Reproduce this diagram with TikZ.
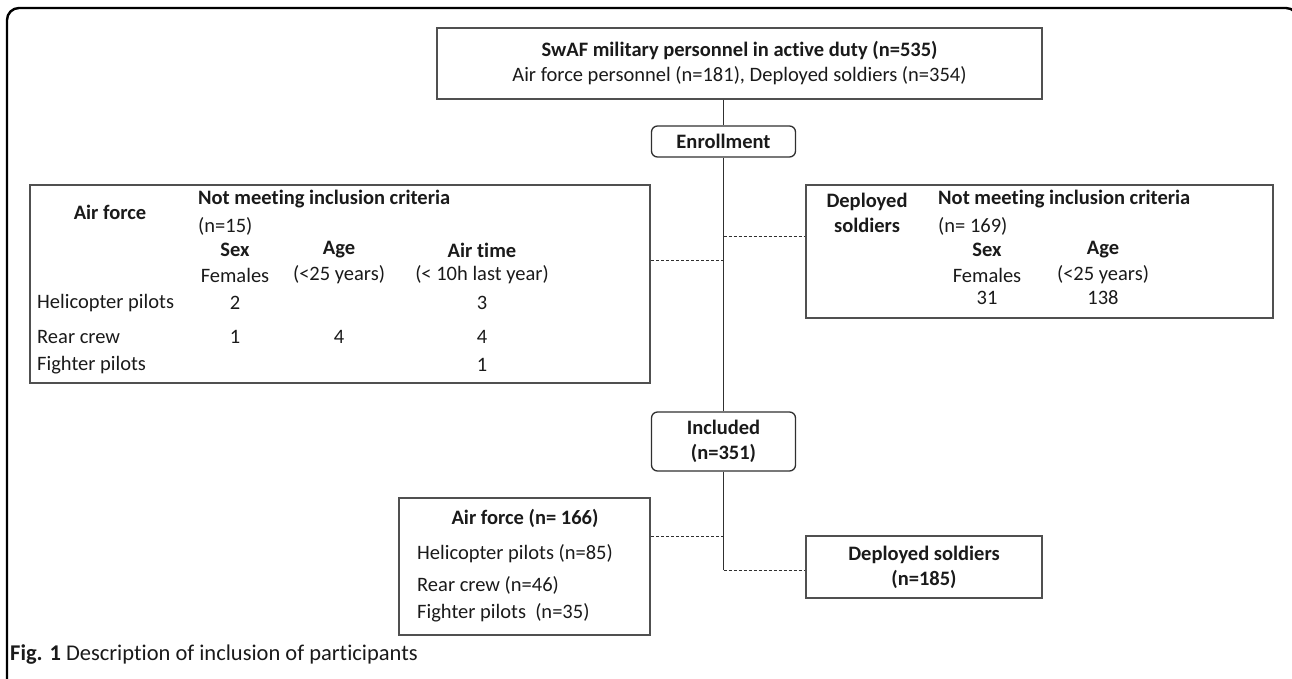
\documentclass[tikz,border=0pt]{standalone}
\usepackage{fontspec}
\setmainfont{Carlito}[Ligatures=NoCommon]
\definecolor{boxgray}{HTML}{505050}
\definecolor{linegray}{HTML}{303030}
\definecolor{textblack}{HTML}{1A1A1A}
\tikzset{
  box/.style={draw=boxgray, line width=1.3pt, inner sep=0pt},
  roundbox/.style={box, draw=linegray, rounded corners=6pt},
  txt/.style={inner sep=0pt, text=textblack, font=\fontsize{20.5}{25}\selectfont},
  hd/.style={txt, font=\fontsize{20.5}{25}\selectfont\bfseries},
  link/.style={draw=linegray, line width=1.3pt},
  dashlink/.style={draw=linegray, line width=0.9pt, dash pattern=on 3pt off 2pt}
}
\begin{document}
\begin{tikzpicture}[x=1pt,y=-1pt]
\useasboundingbox (0,0) rectangle (1292,678);

% outer frame, open at the bottom
\draw[line width=2.4pt, rounded corners=12pt] (7,690) -- (7,8) -- (1298,8) -- (1298,60);

% main flow
\node[box, hd, align=center, minimum width=605, minimum height=71] (total) at (739.5,63.5)
  {SwAF military personnel in active duty (n=535)\\\mdseries Air force personnel (n=181), Deployed soldiers (n=354)};
\node[roundbox, hd, minimum width=144, minimum height=31] (enroll) at (723.5,141.5) {Enrollment};
\node[roundbox, hd, align=center, minimum width=144, minimum height=59] (incl) at (723.5,441.5) {Included\\(n=351)};

% excluded, air force
\node[box, minimum width=620, minimum height=198] (exaf) at (340,284) {};
\node[hd] (exaf-t) at (110,212) {Air force};
\node[hd, anchor=west] (exaf-nm) at (198,199) {Not meeting inclusion criteria};
\node[txt, anchor=west] (exaf-n) at (198,226) {(n=15)};
\foreach \xx/\hh/\ss [count=\i] in {235/Sex/Females, 339/Age/(<25 years), 482/Air time/(< 10h last year)} {
  \node[hd] (exaf-h\i) at (\xx,250) {\hh};
  \node[txt] (exaf-s\i) at (\xx,275) {\ss};
}
\foreach \lab/\yy [count=\i] in {Helicopter pilots/303, Rear crew/337, Fighter pilots/365}
  \node[txt, anchor=west] (exaf-r\i) at (37,\yy) {\lab};
\foreach \xx/\yy/\v [count=\i] in {235/303/2, 482/303/3, 235/337/1, 339/337/4, 482/337/4, 482/365/1}
  \node[txt] (exaf-v\i) at (\xx,\yy) {\v};

% excluded, deployed soldiers
\node[box, minimum width=467, minimum height=133] (exds) at (1039.5,251.5) {};
\node[hd, align=center] (exds-t) at (867,212.5) {Deployed\\soldiers};
\node[hd, anchor=west] (exds-nm) at (938,199) {Not meeting inclusion criteria};
\node[txt, anchor=west] (exds-n) at (938,226) {(n= 169)};
\foreach \xx/\hh/\ss/\v [count=\i] in {987/Sex/Females/31, 1103/Age/(<25 years)/138} {
  \node[hd] (exds-h\i) at (\xx,250) {\hh};
  \node[txt] (exds-s\i) at (\xx,275) {\ss};
  \node[txt] (exds-v\i) at (\xx,298) {\v};
}

% included groups
\node[box, minimum width=251, minimum height=137] (afbox) at (524.5,566.5) {};
\node[hd] (afbox-t) at (525,518) {Air force (n= 166)};
\foreach \lab/\yy [count=\i] in {Helicopter pilots (n=85)/554, Rear crew (n=46)/585, Fighter pilots~ (n=35)/613}
  \node[txt, anchor=west] (afbox-r\i) at (417,\yy) {\lab};
\node[box, hd, align=center, minimum width=236, minimum height=62] (dsbox) at (924,567) {Deployed soldiers\\(n=185)};

% connectors
\draw[link] (total.south -| enroll.north) -- (enroll.north);
\draw[link] (enroll) -- (incl);
\coordinate (jl) at (enroll.south |- 0,260);
\coordinate (jr) at (enroll.south |- 0,236);
\coordinate (jb) at (incl.south |- 0,536);
\coordinate (jd) at (incl.south |- 0,570);
\draw[link] (incl.south) -- (jd);
\draw[dashlink] (jl) -- (jl -| exaf.east);
\draw[dashlink] (jr) -- (jr -| exds.west);
\draw[dashlink] (jb) -- (jb -| afbox.east);
\draw[dashlink] (jd) -- (jd -| dsbox.west);

% caption
\node[txt, anchor=west, font=\fontsize{22.5}{26}\selectfont] (cap) at (10,654)
  {\textbf{Fig. 1} Description of inclusion of participants};
\end{tikzpicture}
\end{document}
